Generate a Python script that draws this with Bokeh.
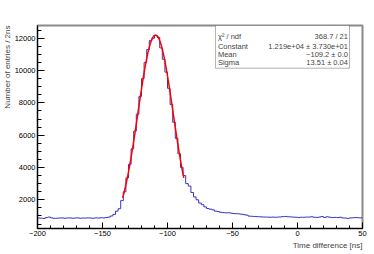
import numpy as np
from bokeh.plotting import figure
from bokeh.models import Range1d, FixedTicker, BoxAnnotation, Label, Title
from bokeh.embed import file_html
from bokeh.resources import INLINE

# ---- data ----
bin_lo, bin_hi, bin_w = -200, 50, 2
counts_left = [870, 860, 850, 900, 930, 880, 850, 860, 870, 880,
               860, 870, 880, 860, 870, 880, 860, 870, 870, 880,
               870, 860, 880, 870, 890, 880, 900]
counts_peak = [930, 1000, 1100, 1300, 1450, 1950, 2500, 3350, 4200, 5150,
               6250, 7300, 8400, 9500, 10500, 11300, 11850, 12000, 12170, 12050,
               11400, 10700, 9900, 8900, 7900, 6800, 5800, 4850, 4000, 3500]
counts_tail = [3000, 2850, 2450, 2180, 2000, 1800, 1700, 1560, 1460, 1420,
               1380, 1300, 1270, 1230, 1210, 1190, 1200, 1180, 1150, 1140,
               1130, 1110, 1080, 1050, 990, 980, 970, 960, 950, 940,
               930, 930, 920, 930, 920, 930, 940, 960, 970, 950,
               940, 930, 920, 910, 920, 920, 930, 930, 950, 920,
               910, 930, 960, 910, 950, 920, 900, 910, 900, 920,
               880, 870, 850, 880, 890, 900, 890, 880]
counts = counts_left + counts_peak + counts_tail

fit_const, fit_mean, fit_sigma = 12190.0, -109.2, 13.51
fit_lo, fit_hi = -134.5, -87.5

x_ticks = [-200, -150, -100, -50, 0, 50]
y_ticks = [2000, 4000, 6000, 8000, 10000, 12000]
x_lo, x_hi = -200, 50
y_lo, y_hi = 224, 12786

stats_names = ["\u03c7\u00b2 / ndf", "Constant", "Mean", "Sigma"]
stats_values = ["368.7 / 21", "1.219e+04 \u00b1 3.730e+01", "\u2212109.2 \u00b1 0.0", "13.51 \u00b1 0.04"]

x_title = "Time difference [ns]"
y_title = "Number of entries / 2ns"

# ---- layout constants (stats box in data units) ----
box_left, box_right, box_bottom = -63.1, 40.0, 10144
row_y = [12124, 11486, 10973, 10515]
txt_left_x, txt_right_x = -61.2, 38.8

FONT = "Liberation Sans"

edges = np.arange(bin_lo, bin_hi + bin_w, bin_w)
assert len(counts) == len(edges) - 1

p = figure(frame_width=325, frame_height=203,
           x_range=Range1d(x_lo, x_hi), y_range=Range1d(y_lo, y_hi),
           output_backend="svg", toolbar_location=None,
           min_border_left=37, min_border_right=12,
           min_border_top=25, min_border_bottom=26)
p.xgrid.visible = False
p.ygrid.visible = False
p.background_fill_color = "white"
p.border_fill_color = "white"
p.outline_line_color = "#8a8a8a"
p.outline_line_width = 2

p.xaxis.ticker = FixedTicker(ticks=x_ticks, minor_ticks=list(range(-200, 51, 10)))
p.yaxis.ticker = FixedTicker(ticks=y_ticks, minor_ticks=list(range(500, 12786, 500)))
for ax in (p.xaxis, p.yaxis):
    ax.axis_line_color = "black"
    ax.axis_line_width = 1
    ax.major_tick_in = 6
    ax.major_tick_out = 0
    ax.minor_tick_in = 3
    ax.minor_tick_out = 0
    ax.major_tick_line_color = "black"
    ax.minor_tick_line_color = "black"
    ax.major_label_text_font = FONT
    ax.major_label_text_font_size = "7.5px"
    ax.major_label_text_color = "black"
    ax.major_label_standoff = 2
p.yaxis.major_tick_in = 7
p.yaxis.minor_tick_in = 4

# histogram outline
p.step(x=list(edges), y=counts + [counts[-1]], mode="after",
       line_color="#3535c5", line_width=1)

# gaussian fit
xf = np.linspace(fit_lo, fit_hi, 200)
yf = fit_const * np.exp(-0.5 * ((xf - fit_mean) / fit_sigma) ** 2)
p.line(xf, yf, line_color="#ff0000", line_width=1.5)

# stats box
p.add_layout(BoxAnnotation(left=box_left, right=box_right, bottom=box_bottom, top=y_hi,
                           fill_color="white", fill_alpha=1.0,
                           line_color="black", line_width=1))
for name, val, yy in zip(stats_names, stats_values, row_y):
    p.add_layout(Label(x=txt_left_x, y=yy, text=name, text_font=FONT,
                       text_font_size="7.5px", text_baseline="middle", text_align="left"))
    p.add_layout(Label(x=txt_right_x, y=yy, text=val, text_font=FONT,
                       text_font_size="7.5px", text_baseline="middle", text_align="right"))

p.add_layout(Title(text=x_title, align="right", text_font=FONT, text_font_size="8px",
                   text_font_style="normal", standoff=0, offset=0), "below")
p.add_layout(Title(text=y_title, align="right", text_font=FONT, text_font_size="8px",
                   text_font_style="normal", standoff=0, offset=0), "left")

open("out.html", "w").write(file_html(p, INLINE))
